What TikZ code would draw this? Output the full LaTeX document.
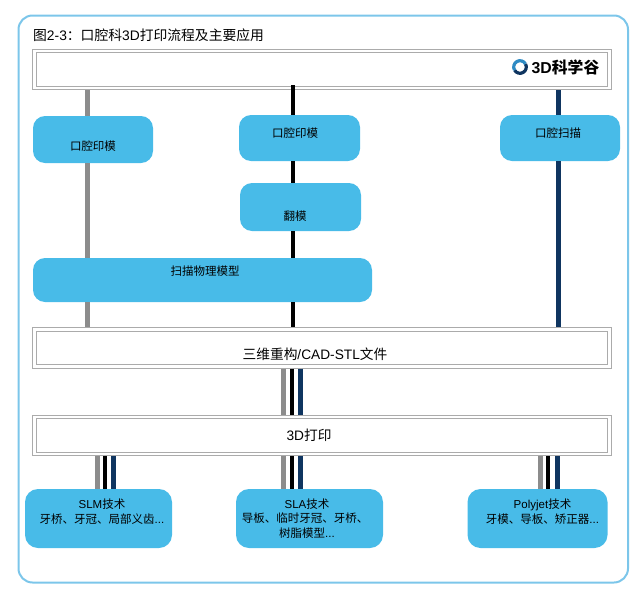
\documentclass[tikz,border=0pt]{standalone}
\usepackage{fontspec}
\setmainfont{Liberation Sans}
\newfontfamily\cjk{Noto Sans CJK SC}
\newcommand{\zh}[1]{{\cjk #1}}
\usetikzlibrary{calc}
\definecolor{panelblue}{HTML}{7CC6EA}
\definecolor{boxblue}{HTML}{48BBE8}
\definecolor{framegray}{HTML}{ABABAB}
\definecolor{bargray}{HTML}{8C8C8C}
\definecolor{barnavy}{HTML}{0F3560}
\definecolor{ringblue}{HTML}{2E8BC4}
\tikzset{
	boxnode/.style={fill=boxblue,rounded corners=12pt,inner sep=0pt,outer sep=0pt,text=black,
		text height=9pt,text depth=2pt,font=\fontsize{11.5}{14.5}\selectfont},
	lownode/.style={fill=boxblue,rounded corners=13pt,inner sep=0pt,outer sep=0pt,text=black,
		align=center,minimum height=59pt,font=\fontsize{11.5}{14.5}\selectfont},
	framenode/.style={draw=framegray,line width=1.1pt,double=white,double distance=2.2pt,inner sep=0pt,
		outer sep=2.2pt,minimum width=575pt,minimum height=37pt,text height=9pt,text depth=2pt,
		font=\fontsize{13.7}{15}\selectfont},
	graybar/.style={draw=bargray,line width=5pt},
	blackbar/.style={draw=black,line width=4.8pt},
	navybar/.style={draw=barnavy,line width=5pt}
}
\begin{document}
\begin{tikzpicture}[x=1pt,y=-1pt]
\useasboundingbox (0,0) rectangle (638,592);
\draw[panelblue,line width=2pt,rounded corners=14pt] (18.5,15.5) rectangle (628,582.5);
\node[anchor=west,font=\fontsize{13.8}{15}\selectfont,inner sep=0pt] (title) at (33,35) {\zh{图}2-3\zh{：口腔科}3D\zh{打印流程及主要应用}};
% frames
\node[framenode] (top) at (322,69.5) {};
\node[framenode,text height=25pt] (recon) at (322,348) {\hspace*{-14pt}\zh{三维重构}/CAD-STL\zh{文件}};
\node[framenode,text height=11pt] (print) at (322,435.5) {\hspace*{-26pt}3D\zh{打印}};
% logo
\draw[barnavy,line width=3.2pt] (520,67) ++(150:6.3) arc (150:-30:6.3);
\draw[ringblue,line width=3.2pt] (520,67) ++(-30:6.3) arc (-30:-210:6.3);
\node[anchor=west,inner sep=0pt,font=\fontsize{15.8}{17}\selectfont\bfseries] (logo) at (531.5,67) {3D{\cjk\bfseries 科学谷}};
% boxes
\node[boxnode,minimum width=120pt,minimum height=47pt,text height=23pt] (impA) at (93,139.5) {\zh{口腔印模}};
\node[boxnode,minimum width=121pt,minimum height=46pt,text depth=10pt] (impB) at (299.5,138) {\hspace*{-9pt}\zh{口腔印模}};
\node[boxnode,minimum width=121pt,minimum height=48pt,text height=29pt] (cast) at (300.5,207) {\hspace*{-11pt}\zh{翻模}};
\node[boxnode,minimum width=339pt,minimum height=44pt,text depth=18pt] (scanM) at (202.5,280) {\hspace*{5pt}\zh{扫描物理模型}};
\node[boxnode,minimum width=120pt,minimum height=46pt,text depth=10pt] (scanO) at (560,138) {\hspace*{-4pt}\zh{口腔扫描}};
\node[lownode,minimum width=147pt] (slm) at (98.5,518.5) {\hspace*{7pt}SLM\zh{技术}\\\hspace*{7pt}\zh{牙桥、牙冠、局部义齿}...\\\mbox{}};
\node[lownode,minimum width=147pt] (sla) at (309.5,518.5) {\hspace*{-5pt}SLA\zh{技术}\\\hspace*{-9pt}\zh{导板、临时牙冠、牙桥、}\\\hspace*{-5pt}\zh{树脂模型}...};
\node[lownode,minimum width=140pt] (poly) at (537.5,518.5) {\hspace*{10pt}Polyjet\zh{技术}\\\hspace*{10pt}\zh{牙模、导板、矫正器}...\\\mbox{}};
% bars
\coordinate (G) at (87,0);
\coordinate (K) at (293,0);
\coordinate (N) at (558.5,0);
\draw[graybar] (top.south -| G) -- (impA.north -| G);
\draw[graybar] (impA.south -| G) -- (scanM.north -| G);
\draw[graybar] (scanM.south -| G) -- (recon.north -| G);
\draw[blackbar,shorten <=-5pt] (top.south -| K) -- (impB.north -| K);
\draw[blackbar] (impB.south -| K) -- (cast.north -| K);
\draw[blackbar] (cast.south -| K) -- (scanM.north -| K);
\draw[blackbar] (scanM.south -| K) -- (recon.north -| K);
\draw[navybar] (top.south -| N) -- (scanO.north -| N);
\draw[navybar] (scanO.south -| N) -- (recon.north -| N);
\foreach \a/\b/\c in {283/292/300}{
	\draw[graybar] (recon.south -| {\a,0}) -- (print.north -| {\a,0});
	\draw[blackbar] (recon.south -| {\b,0}) -- (print.north -| {\b,0});
	\draw[navybar] (recon.south -| {\c,0}) -- (print.north -| {\c,0});
}
\foreach \a/\b/\c/\low in {97/105/113/slm,283.5/292/300.5/sla,540/548/557/poly}{
	\draw[graybar] (print.south -| {\a,0}) -- (\low.north -| {\a,0});
	\draw[blackbar] (print.south -| {\b,0}) -- (\low.north -| {\b,0});
	\draw[navybar] (print.south -| {\c,0}) -- (\low.north -| {\c,0});
}
\end{tikzpicture}
\end{document}
